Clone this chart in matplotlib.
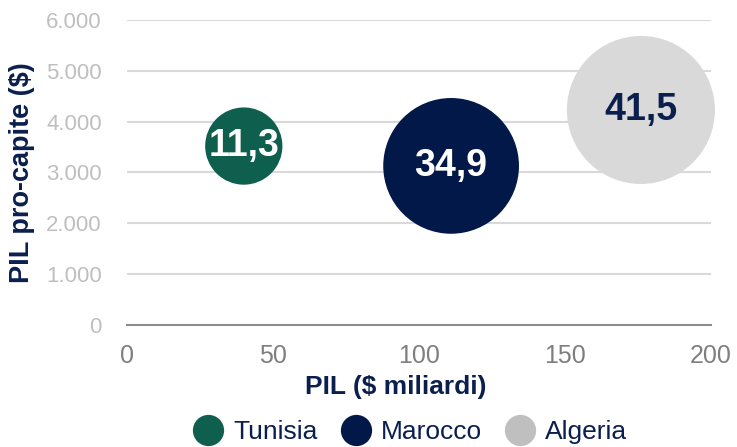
import matplotlib
matplotlib.use("Agg")
import matplotlib.pyplot as plt
from matplotlib.ticker import FuncFormatter, FixedLocator
from matplotlib.lines import Line2D

plt.rcParams['font.family'] = ['Liberation Sans', 'DejaVu Sans']

countries = ["Tunisia", "Marocco", "Algeria"]
gdp_bn = [40, 111, 176]          # PIL ($ miliardi)
gdp_pc = [3520, 3130, 4230]      # PIL pro-capite ($)
bubble_val = [11.3, 34.9, 41.5]  # bubble size / label
bubble_labels = ["11,3", "34,9", "41,5"]
x_ticks = [0, 50, 100, 150, 200]
y_ticks = [0, 1000, 2000, 3000, 4000, 5000, 6000]

colors = ["#0F5F4E", "#011848", "#D9D9D9"]
legend_colors = ["#0F5F4E", "#011848", "#BFBFBF"]
label_colors = ["white", "white", "#0B1F4F"]
navy = "#0B1F4F"

fig = plt.figure(figsize=(7.37, 4.47), dpi=100)
ax = fig.add_axes([0.1723, 0.2729, 0.7924, 0.6824])
ax.set_xlim(0, 200)
ax.set_ylim(0, 6000)

k = 273.7
ax.scatter(gdp_bn, gdp_pc, s=[v * k for v in bubble_val], c=colors,
           edgecolors='none', zorder=3, clip_on=False)
for xv, yv, lab, lc in zip(gdp_bn, gdp_pc, bubble_labels, label_colors):
    ax.text(xv, yv, lab, ha='center', va='center',
            fontsize=27, fontweight='bold', color=lc, zorder=4)

ax.yaxis.set_major_locator(FixedLocator(y_ticks))
ax.xaxis.set_major_locator(FixedLocator(x_ticks))
ax.yaxis.set_major_formatter(FuncFormatter(lambda v, p: f"{int(v):,}".replace(",", ".")))
ax.grid(axis='y', color='#D9D9D9', linewidth=1.5, zorder=0)
ax.set_axisbelow(True)
for s in ['top', 'right', 'left']:
    ax.spines[s].set_visible(False)
ax.spines['bottom'].set_color('#8C8C8C')
ax.spines['bottom'].set_linewidth(1.5)
ax.spines['bottom'].set_zorder(1)
ax.tick_params(axis='y', length=0, pad=18, labelsize=16, labelcolor='#BFBFBF')
ax.tick_params(axis='x', length=0, pad=14, labelsize=18, labelcolor='#7F7F7F')

ax.set_ylabel("PIL pro-capite ($)", fontsize=19.5, fontweight='bold', color=navy)
ax.yaxis.set_label_coords(-0.157, 0.5)
ax.set_xlabel("PIL ($ miliardi)", fontsize=19, fontweight='bold', color=navy)
ax.xaxis.set_label_coords(0.46, -0.165)

handles = [Line2D([0], [0], marker='o', linestyle='none', markersize=22.5,
                  markerfacecolor=c, markeredgecolor='none') for c in legend_colors]
fig.legend(handles, countries, loc='center', bbox_to_anchor=(0.556, 0.033), ncol=3,
           frameon=False, fontsize=19, labelcolor=navy, handletextpad=0.35,
           columnspacing=0.85, handlelength=1.2, borderpad=0)

fig.savefig("out.png", dpi=100)
